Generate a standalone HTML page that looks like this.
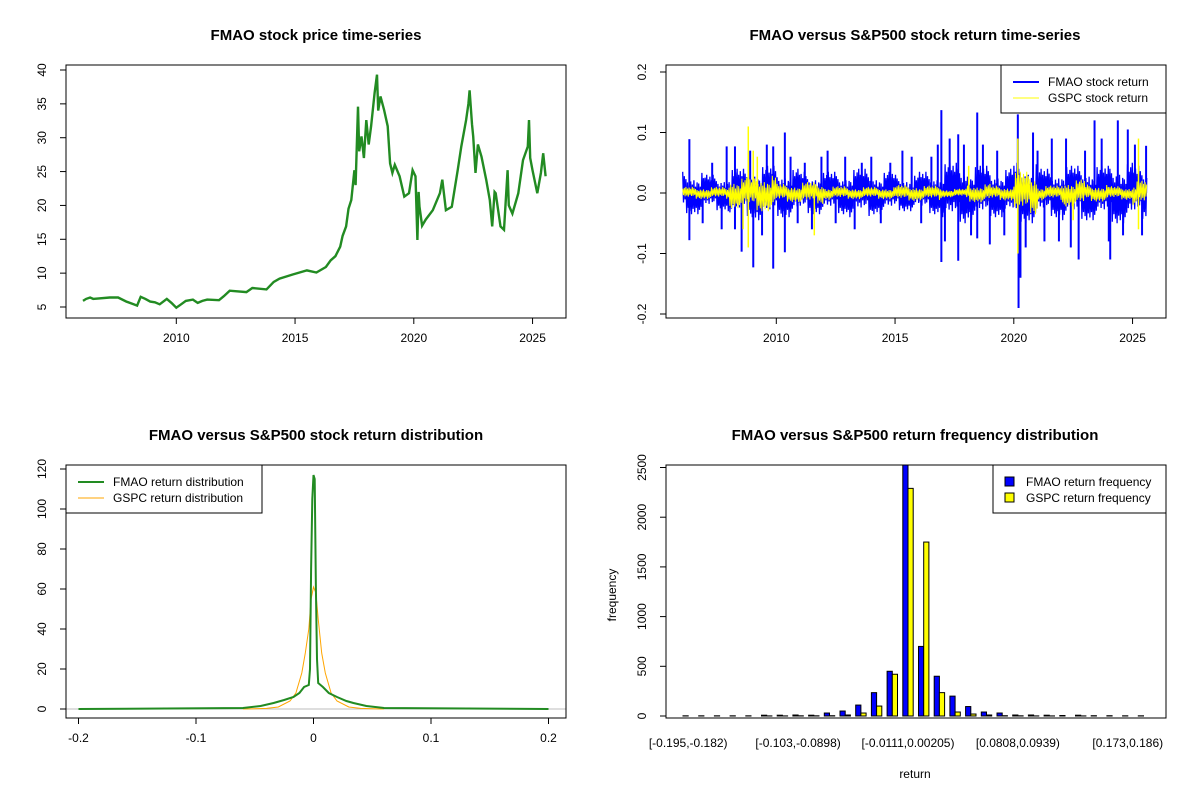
<!DOCTYPE html>
<html><head><meta charset="utf-8"><style>
html,body{margin:0;padding:0;background:#fff;}
svg{display:block;font-family:"Liberation Sans",Arial,sans-serif;}
</style></head><body>
<svg id="c" width="1200" height="800" viewBox="0 0 1200 800"></svg>
<script>
// ---------- DATA ----------
const priceYears=[2006.07,2006.2,2006.37,2006.5,2007.2,2007.55,2007.9,2008.2,2008.35,2008.5,2008.7,2008.9,2009.1,2009.3,2009.6,2009.8,2010.0,2010.2,2010.4,2010.7,2010.9,2011.1,2011.3,2011.8,2012.0,2012.25,2012.95,2013.2,2013.8,2014.1,2014.35,2014.9,2015.5,2015.9,2016.3,2016.5,2016.7,2016.9,2017.0,2017.15,2017.25,2017.37,2017.5,2017.55,2017.65,2017.7,2017.8,2017.9,2018.0,2018.1,2018.2,2018.35,2018.45,2018.5,2018.6,2018.75,2018.9,2019.0,2019.1,2019.2,2019.4,2019.6,2019.8,2019.95,2020.07,2020.15,2020.2,2020.24,2020.35,2020.5,2020.8,2021.1,2021.2,2021.35,2021.6,2021.85,2022.0,2022.2,2022.3,2022.35,2022.45,2022.5,2022.6,2022.7,2022.85,2023.05,2023.2,2023.3,2023.4,2023.45,2023.65,2023.8,2023.95,2024.0,2024.15,2024.4,2024.6,2024.8,2024.85,2024.9,2025.0,2025.2,2025.35,2025.45,2025.55];
const priceValues=[5.9,6.2,6.4,6.2,6.4,6.4,5.8,5.4,5.2,6.5,6.2,5.8,5.7,5.4,6.2,5.6,4.9,5.4,5.9,6.1,5.6,5.9,6.1,6.0,6.6,7.4,7.2,7.8,7.6,8.7,9.2,9.8,10.4,10.1,10.9,11.9,12.5,13.9,15.5,16.9,19.5,20.8,25.2,23,34.6,28,30.2,27,32.6,29,31.7,36.6,39.3,34,36.1,34.1,31.7,26.2,24.8,26,24.3,21.3,21.8,25.2,24.3,14.9,22,19.8,17,17.9,19.3,21.8,23.8,19.3,19.8,25.2,28.7,32.6,35,37.0,32,30.2,24.8,29,27.2,23.8,20.8,16.9,22,21.8,16.9,16.4,25.2,20,18.8,21.8,26.7,28.7,32.6,27,25.2,21.8,24.8,27.7,24.3];
const priceYTicks=[5,10,15,20,25,30,35,40];
const yearTicks=[2010,2015,2020,2025];

const bandYears=[2006,2007,2008,2009,2010,2011,2012,2013,2014,2015,2016,2017,2018,2019,2020,2021,2022,2023,2024,2025];
const fmaoBand=[0.035,0.03,0.04,0.045,0.04,0.035,0.035,0.04,0.035,0.03,0.035,0.05,0.045,0.04,0.05,0.04,0.045,0.045,0.05,0.045];
const gspcBand=[0.01,0.01,0.025,0.03,0.015,0.018,0.011,0.01,0.01,0.013,0.012,0.007,0.015,0.012,0.035,0.012,0.022,0.014,0.011,0.02];
const fmaoSpikeYears=[2006.34,2006.34,2007.91,2008.26,2008.26,2008.54,2009.03,2009.87,2009.87,2010.36,2010.36,2012.16,2015.31,2016.53,2016.95,2016.95,2017.66,2017.66,2018.46,2018.46,2018.99,2020.17,2020.2,2020.28,2020.81,2021.29,2022.73,2023.4,2024.06,2024.38,2024.8,2025.57,
 2006.9,2007.3,2007.7,2008.9,2009.4,2009.6,2010.6,2010.9,2011.2,2011.5,2011.9,2012.5,2012.9,2013.3,2013.6,2014.0,2014.4,2014.8,2015.7,2016.1,2016.8,2017.1,2017.3,2017.9,2018.2,2018.7,2019.3,2019.6,2020.5,2021.0,2021.6,2021.9,2022.2,2022.4,2023.0,2023.7,2024.0,2024.6,2025.1,2025.4];
const fmaoSpikeValues=[0.089,-0.078,0.077,0.077,-0.06,-0.097,-0.123,0.077,-0.125,0.1,-0.098,0.07,0.07,0.06,0.137,-0.114,-0.112,0.097,0.133,-0.075,-0.085,0.13,-0.19,-0.14,0.1,-0.08,-0.11,0.12,-0.11,0.12,0.105,0.078,
 -0.05,0.05,-0.06,0.07,-0.07,0.08,0.06,-0.05,0.05,-0.06,0.06,-0.05,0.06,-0.06,0.05,0.06,-0.05,0.05,0.06,-0.05,0.08,-0.08,0.09,0.08,-0.07,0.08,0.07,-0.07,-0.09,0.07,0.09,-0.08,0.09,-0.09,0.07,0.09,-0.08,-0.07,0.08,-0.07];
const gspcSpikeYears=[2008.82,2008.82,2009.03,2011.6,2020.17,2020.17,2025.25,2025.25,2008.6,2009.2,2022.5,2018.1];
const gspcSpikeValues=[0.11,-0.09,0.07,-0.07,0.09,-0.1,0.09,-0.06,-0.06,0.06,-0.045,0.045];
const retYTicks=[-0.2,-0.1,0.0,0.1,0.2];
const retYLabels=["-0.2","-0.1","0.0","0.1","0.2"];

const densFmaoX=[-0.2,-0.06,-0.045,-0.034,-0.025,-0.017,-0.012,-0.008,-0.004,-0.003,-0.002,-0.001,0,0.001,0.002,0.003,0.004,0.008,0.013,0.02,0.028,0.034,0.045,0.06,0.2];
const densFmaoY=[0,0.5,1.5,3,4.5,6,8,11,12,20,70,105,117,115,60,25,13,11,8,6,4,3,1.5,0.5,0];
const densGspcX=[-0.06,-0.04,-0.03,-0.02,-0.015,-0.01,-0.007,-0.004,-0.002,0,0.002,0.004,0.007,0.01,0.015,0.02,0.03,0.04,0.06];
const densGspcY=[0,0.3,1,4,8,18,28,40,55,61,58,45,28,18,8,4,1,0.3,0];
const densYTicks=[0,20,40,60,80,100,120];
const densXTicks=[-0.2,-0.1,0,0.1,0.2];

const binLabels=["[-0.195,-0.182)","[-0.103,-0.0898)","[-0.0111,0.00205)","[0.0808,0.0939)","[0.173,0.186)"];
const binLabelIdx=[0,7,14,21,28];
const fmaoFreq=[2,2,2,2,2,8,8,10,8,30,50,110,235,450,2600,700,400,200,95,40,30,10,10,8,5,8,3,3,2,2];
const gspcFreq=[0,0,0,0,0,1,1,2,2,3,10,30,100,420,2290,1750,235,40,20,10,3,2,1,1,0,1,0,0,0,0];
const freqYTicks=[0,500,1000,1500,2000,2500];

// ---------- HELPERS ----------
const NS="http://www.w3.org/2000/svg";
const svg=document.getElementById('c');
function mk(tag,attrs,parent){const e=document.createElementNS(NS,tag);for(const k in attrs)e.setAttribute(k,attrs[k]);(parent||svg).appendChild(e);return e;}
function txt(s,x,y,size,opts,parent){const e=mk('text',Object.assign({x:x,y:y,'font-size':size,'text-anchor':'middle',fill:'#000'},opts||{}),parent);e.textContent=s;return e;}
// visual texture multipliers (style only, odd length so both signs vary)
const texture=[1,0.45,0.8,0.3,0.65,0.95,0.5,0.7,0.35,0.85,0.55,1,0.4,0.75,0.6,0.9,0.3,0.7,0.5];

// ---------- PANEL 1 ----------
(function(){
const g=mk('g',{});


const L=66,R=566,T=65,B=318;
const xs=y=>176.3+(y-2010)*23.75;
const ys=v=>307-(v-5)*(237/35);
let t=txt('FMAO stock price time-series',316,40,15,{'font-weight':'bold'},g);

const pts=priceYears.map((y,i)=>xs(y).toFixed(1)+','+ys(priceValues[i]).toFixed(1)).join(' ');
const pl=mk('polyline',{points:pts,fill:'none',stroke:'#228b22','stroke-width':2.4,'stroke-linejoin':'miter'},g);

const box=mk('rect',{x:L,y:T,width:R-L,height:B-T,fill:'none',stroke:'#000','stroke-width':1},g);

priceYTicks.forEach(v=>{const y=ys(v);mk('line',{x1:L,x2:L-6,y1:y,y2:y,stroke:'#000'},g);
 const l=txt(String(v),0,0,12,{transform:`translate(46,${y}) rotate(-90)`},g);
 });
yearTicks.forEach(v=>{const x=xs(v);mk('line',{x1:x,x2:x,y1:B,y2:B+6,stroke:'#000'},g);
 const l=txt(String(v),x,342,12,{},g);});
})();

// ---------- PANEL 2 ----------
(function(){
const g=mk('g',{});


const L=666,R=1166,T=65,B=318;
const xs=y=>776.3+(y-2010)*23.75;
const ys=v=>193-v*605;
let t=txt('FMAO versus S&P500 stock return time-series',915,40,15,{'font-weight':'bold'},g);

function band(arr,color,w,off){
 let pts=[];let s=1;let k=off;
 for(let x=xs(2006.06);x<=xs(2025.6);x+=0.8){
  const yr=(x-776.3)/23.75+2010;let i=Math.min(arr.length-1,Math.max(0,Math.floor(yr-2006)));
  const m=texture[k%texture.length];k+=1;
  pts.push(x.toFixed(1)+','+ys(s*arr[i]*m).toFixed(1));s=-s;}
 return mk('polyline',{points:pts.join(' '),fill:'none',stroke:color,'stroke-width':w},g);
}
const b1=band(fmaoBand,'#0000ff',1.3,0);
fmaoSpikeYears.forEach((y,i)=>{const e=mk('line',{x1:xs(y),x2:xs(y),y1:ys(0),y2:ys(fmaoSpikeValues[i]),stroke:'#0000ff','stroke-width':2},g);
 });
const b2=band(gspcBand,'#ffff00',1,7);
gspcSpikeYears.forEach((y,i)=>{const e=mk('line',{x1:xs(y),x2:xs(y),y1:ys(0),y2:ys(gspcSpikeValues[i]),stroke:'#ffff00','stroke-width':1.5},g);
 });
const box=mk('rect',{x:L,y:T,width:R-L,height:B-T,fill:'none',stroke:'#000'},g);

retYTicks.forEach((v,i)=>{const y=ys(v);mk('line',{x1:L,x2:L-6,y1:y,y2:y,stroke:'#000'},g);
 const l=txt(retYLabels[i],0,0,12,{transform:`translate(646,${y}) rotate(-90)`},g);
 });
yearTicks.forEach(v=>{const x=xs(v);mk('line',{x1:x,x2:x,y1:B,y2:B+6,stroke:'#000'},g);
 const l=txt(String(v),x,342,12,{},g);});
const lg=mk('g',{},g);
mk('rect',{x:1001,y:65,width:165,height:48,fill:'#fff',stroke:'#000'},lg);
mk('line',{x1:1013,x2:1039,y1:82,y2:82,stroke:'#0000ff','stroke-width':2},lg);
mk('line',{x1:1013,x2:1039,y1:98,y2:98,stroke:'#ffff00','stroke-width':1},lg);
txt('FMAO stock return',1048,86,12,{'text-anchor':'start'},lg);
txt('GSPC stock return',1048,102,12,{'text-anchor':'start'},lg);
})();

// ---------- PANEL 3 ----------
(function(){
const g=mk('g',{});


const L=66,R=566,T=465,B=718;
const xs=v=>313.5+v*1175;
const ys=v=>709-v*2;
let t=txt('FMAO versus S&P500 stock return distribution',316,440,15,{'font-weight':'bold'},g);

const h=mk('line',{x1:L,x2:R,y1:ys(0),y2:ys(0),stroke:'#bebebe','stroke-width':1},g);

const p2=mk('polyline',{points:densGspcX.map((x,i)=>xs(x).toFixed(1)+','+ys(densGspcY[i]).toFixed(1)).join(' '),fill:'none',stroke:'#ffa500','stroke-width':1},g);

const p1=mk('polyline',{points:densFmaoX.map((x,i)=>xs(x).toFixed(1)+','+ys(densFmaoY[i]).toFixed(1)).join(' '),fill:'none',stroke:'#228b22','stroke-width':2},g);

const box=mk('rect',{x:L,y:T,width:R-L,height:B-T,fill:'none',stroke:'#000'},g);

densYTicks.forEach(v=>{const y=ys(v);mk('line',{x1:L,x2:L-6,y1:y,y2:y,stroke:'#000'},g);
 const l=txt(String(v),0,0,12,{transform:`translate(46,${y}) rotate(-90)`},g);
 });
densXTicks.forEach(v=>{const x=xs(v);mk('line',{x1:x,x2:x,y1:B,y2:B+6,stroke:'#000'},g);
 const l=txt(String(v),x,742,12,{},g);});
const lg=mk('g',{},g);
mk('rect',{x:66,y:465,width:196,height:48,fill:'#fff',stroke:'#000'},lg);
mk('line',{x1:78,x2:104,y1:482,y2:482,stroke:'#228b22','stroke-width':2},lg);
mk('line',{x1:78,x2:104,y1:498,y2:498,stroke:'#ffa500','stroke-width':1},lg);
txt('FMAO return distribution',113,486,12,{'text-anchor':'start'},lg);
txt('GSPC return distribution',113,502,12,{'text-anchor':'start'},lg);
})();

// ---------- PANEL 4 ----------
(function(){
const g=mk('g',{});


const L=666,R=1166,T=465,B=718;
const ys=v=>716-v*0.0994;
const gx=i=>683+i*15.7;
const bw=5.2;
let t=txt('FMAO versus S&P500 return frequency distribution',915,440,15,{'font-weight':'bold'},g);

const cp=mk('clipPath',{id:'cp4'},g);mk('rect',{x:L,y:T,width:R-L,height:B-T},cp);
const bars=mk('g',{'clip-path':'url(#cp4)'},g);
fmaoFreq.forEach((v,i)=>{const y=ys(v);
 const b=mk('rect',{x:gx(i),y:y,width:bw,height:Math.max(0,ys(0)-y),fill:'#0000ff',stroke:'#000','stroke-width':1},bars);
 
 const y2=ys(gspcFreq[i]);
 const c=mk('rect',{x:gx(i)+bw,y:y2,width:bw,height:Math.max(0,ys(0)-y2),fill:'#ffff00',stroke:'#000','stroke-width':1},bars);
 });
const box=mk('rect',{x:L,y:T,width:R-L,height:B-T,fill:'none',stroke:'#000'},g);

freqYTicks.forEach(v=>{const y=ys(v);mk('line',{x1:L,x2:L-6,y1:y,y2:y,stroke:'#000'},g);
 const l=txt(String(v),0,0,12,{transform:`translate(646,${y}) rotate(-90)`},g);
 });
binLabelIdx.forEach((idx,k)=>{const l=txt(binLabels[k],gx(idx)+bw,747,12,{},g);
 });
let yl=txt('frequency',0,0,12,{transform:'translate(616,595) rotate(-90)'},g);

let xl=txt('return',915,778,12,{},g);

const lg=mk('g',{},g);
mk('rect',{x:993,y:465,width:173,height:48,fill:'#fff',stroke:'#000'},lg);
mk('rect',{x:1005,y:477,width:9,height:9,fill:'#0000ff',stroke:'#000'},lg);
mk('rect',{x:1005,y:493,width:9,height:9,fill:'#ffff00',stroke:'#000'},lg);
txt('FMAO return frequency',1026,486,12,{'text-anchor':'start'},lg);
txt('GSPC return frequency',1026,502,12,{'text-anchor':'start'},lg);
})();
</script>
</body></html>
